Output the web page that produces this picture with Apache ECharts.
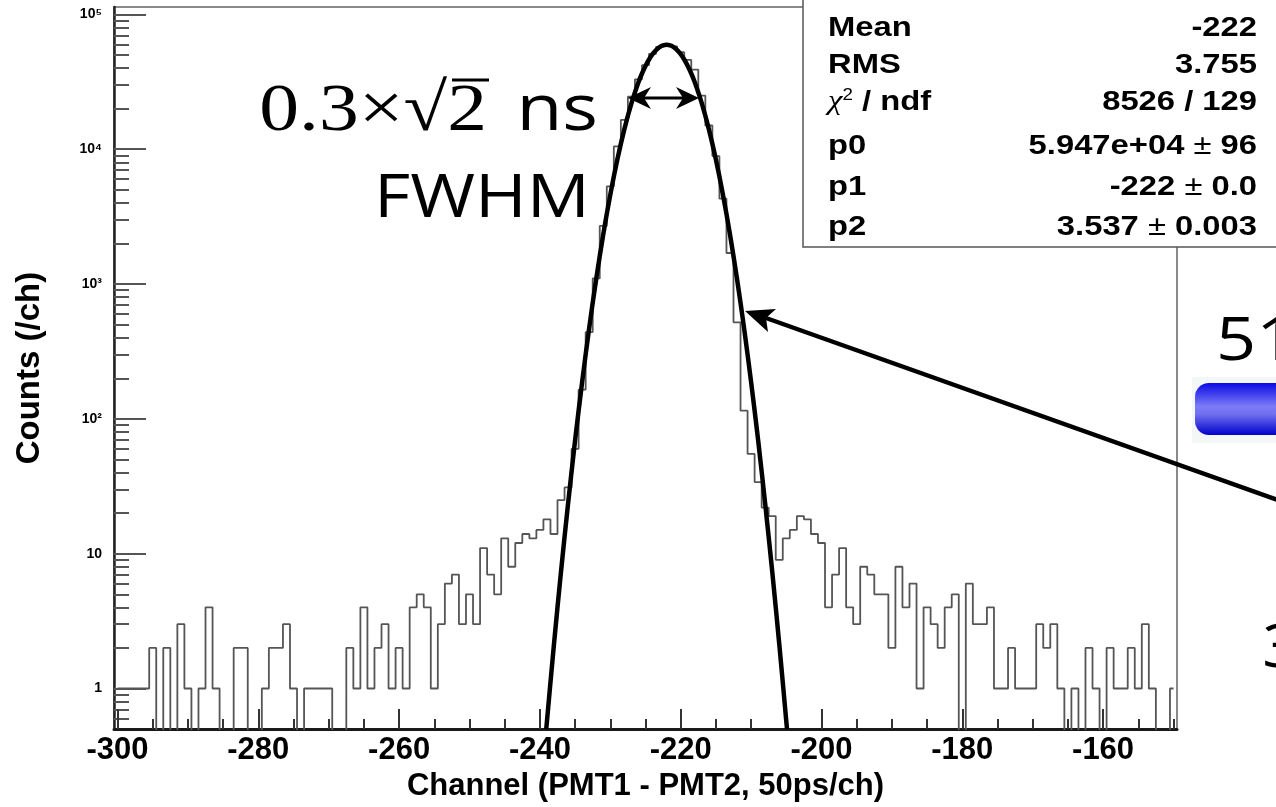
<!DOCTYPE html>
<html><head><meta charset="utf-8">
<script src="https://cdn.jsdelivr.net/npm/echarts@6/dist/echarts.min.js"></script>
<style>html,body{margin:0;padding:0;background:#fff}#c{width:1276px;height:807px}</style>
</head><body><div id="c"></div>
<script>
// ---- data ----
const channels = [-300,-299,-298,-297,-296,-295,-294,-293,-292,-291,-290,-289,-288,-287,-286,-285,-284,-283,-282,-281,
  -280,-279,-278,-277,-276,-275,-274,-273,-272,-271,-270,-269,-268,-267,-266,-265,-264,-263,-262,-261,
  -260,-259,-258,-257,-256,-255,-254,-253,-252,-251,-250,-249,-248,-247,-246,-245,-244,-243,-242,-241,
  -240,-239,-238,-237,-236,-235,-234,-233,-232,-231,-230,-229,-228,-227,-226,-225,-224,-223,-222,-221,
  -220,-219,-218,-217,-216,-215,-214,-213,-212,-211,-210,-209,-208,-207,-206,-205,-204,-203,-202,-201,
  -200,-199,-198,-197,-196,-195,-194,-193,-192,-191,-190,-189,-188,-187,-186,-185,-184,-183,-182,-181,
  -180,-179,-178,-177,-176,-175,-174,-173,-172,-171,-170,-169,-168,-167,-166,-165,-164,-163,-162,-161,
  -160,-159,-158,-157,-156,-155,-154,-153,-152,-151,-150];
const counts = [1,1,1,1,1,2,0,2,0,3,1,0,1,4,1,0,0,2,2,0,0,1,2,2,3,1,0,1,1,1,
  1,0,0,2,1,4,1,2,3,1,2,1,4,5,4,1,3,6,7,3,5,3,11,7,5,13,8,12,14,13,
  15,18,14,25,31,60,165,440,1100,2700,5300,10500,16500,24500,33000,42000,51000,57500,59500,57800,
  52500,46000,39000,25000,15000,8900,4300,1700,520,115,
  55,34,22,19,9,13,15,19,18,14,12,4,7,11,4,3,8,7,5,5,2,8,4,6,1,4,3,2,4,5,
  0,6,3,3,4,1,1,2,1,1,1,3,2,3,1,0,1,0,2,1,0,2,1,1,2,1,3,1,0,0,1];
const fitX = [-239.1,-239,-238,-237,-236,-235,-234,-233,-232,-231,-230,-229,-228,-227,-226,-225.5,-225,-224.5,-224,-223.5,-223,-222.5,-222,
  -221.5,-221,-220.5,-220,-219.5,-219,-218.5,-218,-217,-216,-215,-214,-213,-212,-211,-210,-209,-208,-207,-206,-205,-204.9];
const fitY = [0.5,0.572,2.14,7.39,23.5,69.3,188,472,1093,2335,4606,8389,14107,21895,31375,36447,41503,46325,50684,54356,57140,58879,59470,
  58879,57140,54356,50684,46325,41503,36447,31375,21895,14107,8389,4606,2335,1093,472,188,69.3,23.5,7.39,2.14,0.572,0.5];
const xTickValues = [-300,-280,-260,-240,-220,-200,-180,-160];
const xMinorTickValues = [-300,-295,-290,-285,-280,-275,-270,-265,-260,-255,-250,-245,-240,-235,-230,-225,-220,-215,-210,-205,
  -200,-195,-190,-185,-180,-175,-170,-165,-160,-155,-150];
const yTickValues = [1,10,100,1000,10000,100000];
const yTickLabels = ['1','10','10²','10³','10⁴','10⁵'];
const yMinorTickValues = [0.6,0.7,0.8,0.9,2,3,4,5,6,7,8,9,20,30,40,50,60,70,80,90,200,300,400,500,600,700,800,900,
  2000,3000,4000,5000,6000,7000,8000,9000,20000,30000,40000,50000,60000,70000,80000,90000];
const statsLabels = ['Mean','RMS','{chi|χ}{sup|2}{b| / ndf}','p0','p1','p2'];
const statsValues = ['-222','3.755','8526 / 129','5.947e+04 {pm|±} 96','-222 {pm|±} 0.0','3.537 {pm|±} 0.003'];
const statsRowY = [28,65,102,146,187,227];

// ---- chart ----
const chart = echarts.init(document.getElementById('c'), null, {renderer:'canvas'});
const FLOOR = 0.05; // empty bins are drawn down to the frame bottom (as ROOT does on a log axis)
const histData = channels.map((c,i)=>[c, counts[i] > 0 ? counts[i] : FLOOR]);
const fitData = fitX.map((x,i)=>[x, fitY[i]]);
const SANS = 'Liberation Sans, Arial, sans-serif';
const SX = 1.17; // the source picture is stretched horizontally

const graphics = [];
graphics.push({type:'rect', z:100, shape:{x:803,y:-4,width:490,height:251}, style:{fill:'#fff', stroke:'#555', lineWidth:1.5}});
statsLabels.forEach((t,i)=>{
  graphics.push({type:'text', z:101, x:828, y:statsRowY[i], scaleX:SX, style:{text:t, fontFamily:SANS, fontSize:28, fontWeight:'bold', fill:'#000', verticalAlign:'middle', align:'left',
    rich:{chi:{fontFamily:'Liberation Serif', fontSize:28, fontStyle:'italic', fontWeight:'normal'}, sup:{fontFamily:SANS, fontSize:16, fontWeight:'normal', verticalAlign:'top', padding:[0,0,12,0]}, b:{fontFamily:SANS, fontSize:28, fontWeight:'bold'}}}});
  graphics.push({type:'text', z:101, x:1257, y:statsRowY[i], scaleX:SX, style:{text:statsValues[i], fontFamily:SANS, fontSize:28, fontWeight:'bold', fill:'#000', verticalAlign:'middle', align:'right',
    rich:{pm:{fontFamily:SANS, fontSize:28, fontWeight:'normal'}}}});
});
// FWHM double arrow
graphics.push({type:'line', z:100, shape:{x1:640,y1:98,x2:688,y2:98}, style:{stroke:'#000', lineWidth:3}});
graphics.push({type:'polygon', z:100, shape:{points:[[628,98],[651,87],[644,98],[651,109]]}, style:{fill:'#000'}});
graphics.push({type:'polygon', z:100, shape:{points:[[699,98],[676,87],[683,98],[676,109]]}, style:{fill:'#000'}});
// long arrow
graphics.push({type:'line', z:100, shape:{x1:1300,y1:508,x2:766,y2:318}, style:{stroke:'#000', lineWidth:4.5}});
graphics.push({type:'polygon', z:100, shape:{points:[[745,311],[776,309],[766,318],[768,332]]}, style:{fill:'#000'}});
// annotation text
graphics.push({type:'text', z:100, x:487, y:112, scaleX:SX, style:{text:'0.3×√2', fontFamily:'Liberation Serif', fontSize:68, fill:'#000', align:'right', verticalAlign:'middle'}});
graphics.push({type:'line', z:100, shape:{x1:452,y1:80,x2:489,y2:80}, style:{stroke:'#000', lineWidth:3}});
graphics.push({type:'text', z:100, x:598, y:112, scaleX:SX, style:{text:'ns', fontFamily:'Open Sans', fontSize:64, fill:'#000', align:'right', verticalAlign:'middle'}});
graphics.push({type:'text', z:100, x:590, y:200, scaleX:SX, style:{text:'FWHM', fontFamily:'Open Sans', fontSize:60, fill:'#000', align:'right', verticalAlign:'middle'}});
// cropped slide content on the right
graphics.push({type:'rect', z:90, shape:{x:1192,y:377,width:90,height:66}, style:{fill:'#f3f7f7'}});
graphics.push({type:'rect', z:91, shape:{x:1195,y:383,width:100,height:52,r:[14,0,0,14]},
  style:{fill:new echarts.graphic.LinearGradient(0,0,0,1,[{offset:0,color:'#0a0ae6'},{offset:0.45,color:'#7c7cf6'},{offset:0.6,color:'#7070f0'},{offset:1,color:'#0000cc'}])}});
graphics.push({type:'text', z:100, x:1216, y:343, scaleX:SX, style:{text:'51', fontFamily:'Open Sans', fontSize:60, fill:'#000', align:'left', verticalAlign:'middle'}});
graphics.push({type:'text', z:100, x:1262, y:650, scaleX:SX, style:{text:'3', fontFamily:'Open Sans', fontSize:60, fill:'#000', align:'left', verticalAlign:'middle'}});

const option = {
  animation:false,
  backgroundColor:'#fff',
  grid:{left:114, top:7, width:1063, height:723, show:true, borderColor:'#8a8a8a', borderWidth:2, backgroundColor:'transparent'},
  xAxis:[
    {type:'value', min:-300.5, max:-149.5, position:'bottom',
     axisLine:{onZero:false, lineStyle:{color:'#1a1a1a', width:3}},
     axisTick:{inside:true, length:20, customValues:xTickValues, lineStyle:{color:'#333', width:2}},
     axisLabel:{customValues:xTickValues, fontFamily:SANS, fontWeight:'bold', fontSize:31, color:'#000', margin:6},
     splitLine:{show:false},
     name:'Channel (PMT1 - PMT2, 50ps/ch)', nameLocation:'middle', nameGap:36,
     nameTextStyle:{fontFamily:SANS, fontWeight:'bold', fontSize:31, color:'#000'}},
    {type:'value', min:-300.5, max:-149.5, position:'bottom',
     axisLine:{show:false, onZero:false},
     axisTick:{inside:true, length:10, customValues:xMinorTickValues, lineStyle:{color:'#333', width:2}},
     axisLabel:{show:false}, splitLine:{show:false}}
  ],
  yAxis:[
    {type:'log', logBase:10, min:0.5, max:113500, position:'left',
     axisLine:{onZero:false, lineStyle:{color:'#222', width:2.5}},
     axisTick:{inside:true, length:32, customValues:yTickValues, lineStyle:{color:'#555', width:2}},
     axisLabel:{customValues:yTickValues, fontFamily:SANS, fontWeight:'bold', fontSize:14, color:'#000', margin:12,
       formatter:(v)=>{const i=yTickValues.findIndex(t=>Math.abs(t-v)/t<1e-6); return i>=0?yTickLabels[i]:'';}},
     splitLine:{show:false},
     name:'Counts (/ch)', nameLocation:'middle', nameGap:68, nameRotate:90,
     nameTextStyle:{fontFamily:SANS, fontWeight:'bold', fontSize:33, color:'#000'}},
    {type:'log', logBase:10, min:0.5, max:113500, position:'left',
     axisLine:{show:false, onZero:false},
     axisTick:{inside:true, length:15, customValues:yMinorTickValues, lineStyle:{color:'#555', width:2}},
     axisLabel:{show:false}, splitLine:{show:false}}
  ],
  series:[
    {type:'line', name:'hist', xAxisIndex:0, yAxisIndex:0, data:histData, step:'middle', symbol:'none', clip:true,
     lineStyle:{color:'#555', width:1.8}, z:2},
    {type:'line', name:'fit', xAxisIndex:0, yAxisIndex:0, data:fitData, smooth:0.3, symbol:'none', clip:true,
     lineStyle:{color:'#000', width:4.5}, z:3}
  ],
  graphic:{elements:graphics}
};
chart.setOption(option);
</script></body></html>
